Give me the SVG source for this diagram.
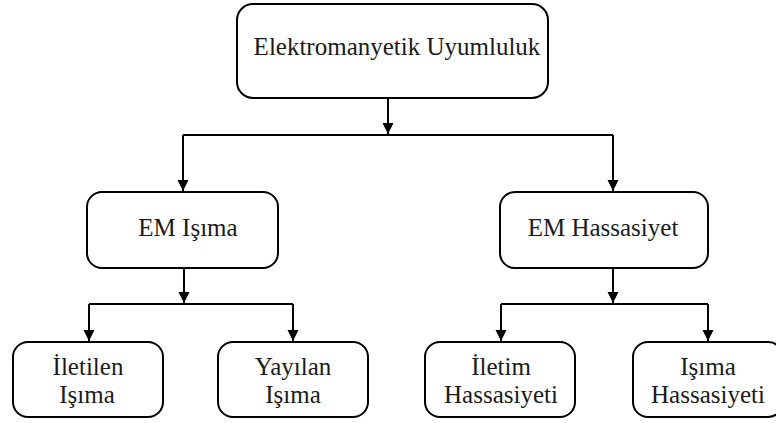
<svg xmlns="http://www.w3.org/2000/svg" width="776" height="423" viewBox="0 0 776 423">
<style>
.box{fill:#fff;stroke:#000;stroke-width:2}
.t{font-family:"Liberation Serif","Times New Roman",serif;font-size:25px;fill:#1a1a1a;text-anchor:middle}
.c{fill:none;stroke:#000;stroke-width:2}
</style>
<defs>
<marker id="ah" markerUnits="userSpaceOnUse" markerWidth="12" markerHeight="12" viewBox="0 0 12 12" refX="11" refY="6" orient="auto">
<path d="M0,0.5 L11,6 L0,11.5 Z" fill="#000"/>
</marker>
</defs>
<rect width="776" height="423" fill="#fff"/>
<g id="connectors">
<path class="c" d="M388,98 V134" marker-end="url(#ah)"/>
<path class="c" d="M183,135 H613"/>
<path class="c" d="M183,135 V191" marker-end="url(#ah)"/>
<path class="c" d="M613,135 V191" marker-end="url(#ah)"/>
<path class="c" d="M184,268 V303" marker-end="url(#ah)"/>
<path class="c" d="M89,304 H293"/>
<path class="c" d="M89,304 V341" marker-end="url(#ah)"/>
<path class="c" d="M293,304 V341" marker-end="url(#ah)"/>
<path class="c" d="M613,268 V303" marker-end="url(#ah)"/>
<path class="c" d="M501,304 H708"/>
<path class="c" d="M501,304 V341" marker-end="url(#ah)"/>
<path class="c" d="M708,304 V341" marker-end="url(#ah)"/>
</g>
<g id="n-emc">
<rect class="box" x="237" y="4" width="311" height="94" rx="16"/>
<text class="t" x="397" y="55">Elektromanyetik Uyumluluk</text>
</g>
<g id="n-emi">
<rect class="box" x="87" y="192" width="191" height="76" rx="15"/>
<text class="t" x="188" y="236">EM Işıma</text>
</g>
<g id="n-ems">
<rect class="box" x="500" y="192" width="208" height="76" rx="15"/>
<text class="t" x="603" y="236">EM Hassasiyet</text>
</g>
<g id="n-ce">
<rect class="box" x="13" y="342" width="150" height="75" rx="15"/>
<text class="t" x="88" y="375">İletilen</text>
<text class="t" x="87" y="403">Işıma</text>
</g>
<g id="n-re">
<rect class="box" x="218" y="342" width="150" height="75" rx="15"/>
<text class="t" x="293" y="375">Yayılan</text>
<text class="t" x="293" y="403">Işıma</text>
</g>
<g id="n-cs">
<rect class="box" x="425" y="342" width="150" height="75" rx="15"/>
<text class="t" x="501" y="375">İletim</text>
<text class="t" x="501" y="403">Hassasiyeti</text>
</g>
<g id="n-rs">
<rect class="box" x="633" y="342" width="150" height="75" rx="15"/>
<text class="t" x="708" y="375">Işıma</text>
<text class="t" x="708" y="403">Hassasiyeti</text>
</g>
</svg>
